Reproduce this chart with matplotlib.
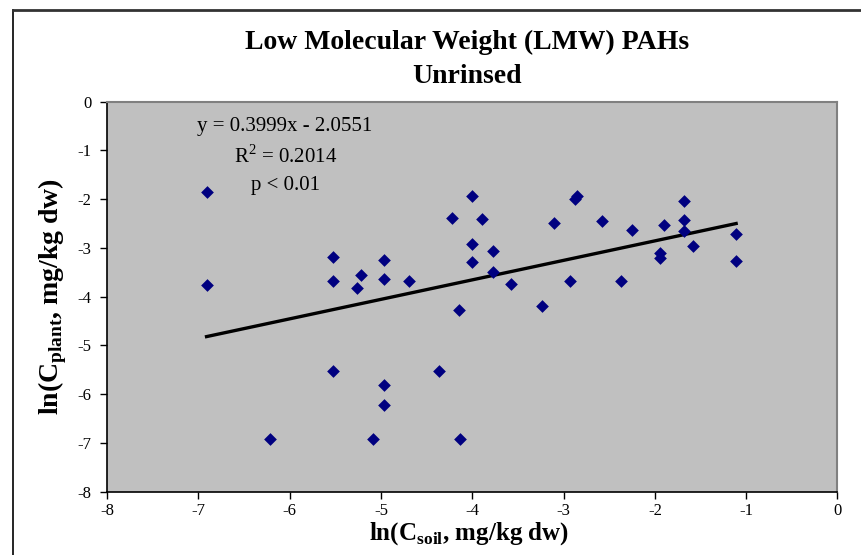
import numpy as np
import matplotlib
matplotlib.use("Agg")
import matplotlib.pyplot as plt
from matplotlib.lines import Line2D

plt.rcParams['font.family'] = ['Liberation Serif', 'DejaVu Serif']
plt.rcParams['mathtext.fontset'] = 'custom'
plt.rcParams['mathtext.rm'] = 'Liberation Serif'
plt.rcParams['mathtext.bf'] = 'Liberation Serif:bold'
plt.rcParams['axes.unicode_minus'] = False

# ln(C_soil) and ln(C_plant)
ln_soil = [-6.91, -6.91, -5.52, -5.52, -5.22, -5.26, -4.97, -4.97, -4.69, -4.22,
           -4.00, -4.00, -4.00, -3.89, -3.77, -3.77, -3.58, -3.11, -2.88, -2.85,
           -2.93, -2.58, -2.37, -2.25, -1.90, -1.94, -1.94, -1.68, -1.68, -1.68,
           -1.58, -1.11, -1.11, -4.14, -5.52, -4.97, -4.97, -4.36, -6.21, -5.09,
           -4.13, -3.24]
ln_plant = [-1.85, -3.77, -3.18, -3.68, -3.56, -3.82, -3.24, -3.64, -3.68, -2.39,
            -1.93, -2.91, -3.29, -2.41, -3.06, -3.49, -3.73, -2.49, -2.00, -1.94,
            -3.68, -2.44, -3.68, -2.63, -2.53, -3.11, -3.20, -2.04, -2.42, -2.66,
            -2.97, -2.71, -3.27, -4.27, -5.52, -5.81, -6.22, -5.52, -6.91, -6.91,
            -6.91, -4.20]

slope = 0.3999
intercept = -2.0551

fig = plt.figure(figsize=(8.61, 5.55), dpi=100)
ax = fig.add_axes([0.1243, 0.114, 0.8484, 0.7028])
ax.set_facecolor('#C0C0C0')

ax.scatter(ln_soil, ln_plant, marker='D', s=42, color='#000080', zorder=3, linewidths=0)

# trend line over the data range
x_fit = np.array([min(ln_soil), max(ln_soil)])
ax.plot(x_fit, slope * x_fit + intercept, color='black', lw=2.4, zorder=2)

ax.set_xlim(-8, 0)
ax.set_ylim(-8, 0)
ax.set_xticks(range(-8, 1))
ax.set_yticks(range(-8, 1))
ax.tick_params(direction='out', length=5, width=1, labelsize=12, colors='black')
ax.tick_params(axis='x', pad=3)
ax.tick_params(axis='y', pad=6)
for s in ['top', 'right']:
    ax.spines[s].set_color('#808080')
    ax.spines[s].set_linewidth(1.5)
for s in ['left', 'bottom']:
    ax.spines[s].set_color('black')
    ax.spines[s].set_linewidth(1.2)

ax.text(-6.05, -0.51, 'y = 0.3999x - 2.0551', ha='center', va='center', fontsize=15)
ax.text(-6.04, -1.13, r'R$^2$ = 0.2014', ha='center', va='center', fontsize=15)
ax.text(-6.05, -1.71, 'p < 0.01', ha='center', va='center', fontsize=15)

fig.text(0.542, 0.893, 'Low Molecular Weight (LMW) PAHs\nUnrinsed', ha='center', va='center',
         fontsize=20, fontweight='bold', linespacing=1.45)

fig.text(0.545, 0.038, r'ln(C$_{\mathbf{soil}}$, mg/kg dw)', ha='center', va='center',
         fontsize=18, fontweight='bold')
fig.text(0.061, 0.466, r'ln(C$_{\mathbf{plant}}$, mg/kg dw)', ha='center', va='center',
         fontsize=20, fontweight='bold', rotation=90)

# chart border (left and top edges visible)
fig.add_artist(Line2D([13 / 861, 13 / 861], [0, 1 - 10 / 555], color='black', lw=1.2))
fig.add_artist(Line2D([13 / 861, 1], [1 - 10 / 555, 1 - 10 / 555], color='#333333', lw=2))

fig.savefig('out.png', dpi=100)
